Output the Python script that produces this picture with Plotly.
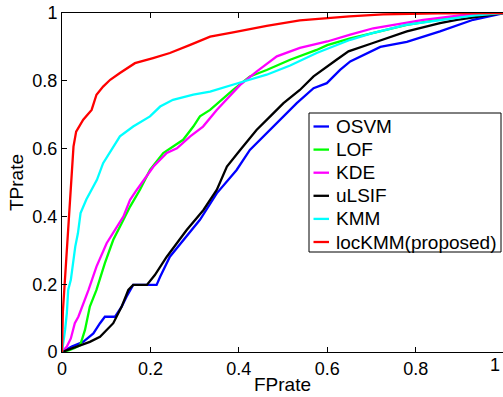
import plotly.graph_objects as go

# ---- data ----
osvm_fp = [0, 0.022, 0.048, 0.071, 0.086, 0.097, 0.12, 0.135, 0.146, 0.161, 0.214, 0.222, 0.244, 0.282, 0.312, 0.35, 0.395, 0.425, 0.463, 0.493, 0.531, 0.569, 0.599, 0.629, 0.652, 0.72, 0.78, 0.855, 0.93, 1]
osvm_tp = [0, 0.016, 0.03, 0.055, 0.085, 0.104, 0.104, 0.134, 0.163, 0.198, 0.198, 0.222, 0.281, 0.34, 0.39, 0.468, 0.537, 0.596, 0.646, 0.685, 0.734, 0.778, 0.793, 0.832, 0.857, 0.90, 0.915, 0.946, 0.98, 1]

lof_fp = [0, 0.015, 0.029, 0.041, 0.046, 0.052, 0.063, 0.078, 0.097, 0.116, 0.135, 0.154, 0.176, 0.199, 0.229, 0.274, 0.297, 0.312, 0.335, 0.387, 0.425, 0.463, 0.516, 0.576, 0.6, 0.652, 0.70, 0.78, 0.9, 1]
lof_tp = [0, 0.005, 0.012, 0.02, 0.04, 0.065, 0.134, 0.183, 0.262, 0.331, 0.38, 0.429, 0.478, 0.537, 0.587, 0.626, 0.665, 0.695, 0.714, 0.773, 0.813, 0.832, 0.862, 0.891, 0.905, 0.925, 0.94, 0.965, 0.99, 1]

kde_fp = [0, 0.011, 0.02, 0.029, 0.037, 0.06, 0.078, 0.101, 0.139, 0.154, 0.169, 0.207, 0.237, 0.26, 0.29, 0.319, 0.35, 0.403, 0.44, 0.486, 0.538, 0.6, 0.652, 0.704, 0.817, 0.9, 1]
kde_tp = [0, 0.016, 0.04, 0.085, 0.104, 0.183, 0.252, 0.321, 0.40, 0.449, 0.478, 0.547, 0.587, 0.601, 0.636, 0.665, 0.714, 0.788, 0.827, 0.872, 0.897, 0.916, 0.936, 0.955, 0.98, 0.993, 1]

ulsif_fp = [0, 0.018, 0.041, 0.063, 0.086, 0.101, 0.116, 0.135, 0.15, 0.161, 0.192, 0.21, 0.237, 0.282, 0.32, 0.35, 0.373, 0.403, 0.44, 0.471, 0.501, 0.538, 0.569, 0.621, 0.648, 0.70, 0.78, 0.855, 0.893, 1]
ulsif_tp = [0, 0.008, 0.02, 0.03, 0.045, 0.065, 0.085, 0.134, 0.183, 0.198, 0.198, 0.227, 0.281, 0.36, 0.419, 0.478, 0.547, 0.596, 0.655, 0.695, 0.734, 0.773, 0.813, 0.862, 0.887, 0.91, 0.946, 0.97, 0.98, 1]

kmm_fp = [0, 0.004, 0.007, 0.011, 0.014, 0.02, 0.03, 0.036, 0.042, 0.055, 0.067, 0.079, 0.093, 0.131, 0.161, 0.199, 0.222, 0.251, 0.297, 0.335, 0.403, 0.463, 0.516, 0.576, 0.652, 0.70, 0.778, 0.93, 1]
kmm_tp = [0, 0.03, 0.065, 0.115, 0.183, 0.213, 0.311, 0.35, 0.41, 0.45, 0.478, 0.508, 0.557, 0.636, 0.665, 0.695, 0.724, 0.744, 0.759, 0.768, 0.795, 0.818, 0.845, 0.882, 0.921, 0.94, 0.965, 0.992, 1]

lockmm_fp = [0, 0.002, 0.006, 0.01, 0.015, 0.02, 0.024, 0.026, 0.032, 0.048, 0.067, 0.078, 0.093, 0.109, 0.131, 0.165, 0.206, 0.244, 0.29, 0.335, 0.387, 0.463, 0.538, 0.6, 0.65, 0.726, 0.85, 1]
lockmm_tp = [0, 0.12, 0.2, 0.28, 0.38, 0.478, 0.55, 0.606, 0.65, 0.685, 0.714, 0.759, 0.783, 0.803, 0.823, 0.852, 0.867, 0.882, 0.906, 0.93, 0.943, 0.962, 0.978, 0.985, 0.99, 0.996, 0.999, 1]

series_names = ["OSVM", "LOF", "KDE", "uLSIF", "KMM", "locKMM(proposed)"]
series_fp = [osvm_fp, lof_fp, kde_fp, ulsif_fp, kmm_fp, lockmm_fp]
series_tp = [osvm_tp, lof_tp, kde_tp, ulsif_tp, kmm_tp, lockmm_tp]
series_colors = ["#0000FF", "#00FF00", "#FF00FF", "#000000", "#00FFFF", "#FF0000"]

tick_vals = [0, 0.2, 0.4, 0.6, 0.8, 1]
tick_text = ["0", "0.2", "0.4", "0.6", "0.8", "1"]

FONT = "Liberation Sans, Arial, Helvetica, sans-serif"
W, H = 503, 397
ML, MR, MT, MB = 62, 0, 13, 45
PW, PH = W - ML - MR, H - MT - MB
X_MAX = 0.9975  # the reference image crops the axes just before x = 1


def px_x(p):
    return (p - ML) / PW


def px_y(p):
    return (H - MB - p) / PH


fig = go.Figure()
for name, fp, tp, col in zip(series_names, series_fp, series_tp, series_colors):
    fig.add_trace(go.Scatter(x=fp, y=tp, mode="lines", name=name,
                             line=dict(color=col, width=2.3), showlegend=False))

fig.update_layout(
    width=W, height=H,
    margin=dict(l=ML, r=MR, t=MT, b=MB),
    paper_bgcolor="white", plot_bgcolor="white",
    font=dict(family=FONT, size=18, color="black"),
    xaxis=dict(range=[0, X_MAX], tickvals=tick_vals, ticktext=tick_text,
               ticks="inside", ticklen=5, tickcolor="black", showline=True,
               linecolor="black", linewidth=1, mirror="ticks", showgrid=False,
               zeroline=False, tickfont=dict(size=18),
               title=dict(text="FPrate", standoff=0, font=dict(size=19))),
    yaxis=dict(range=[0, 1], tickvals=tick_vals, ticktext=tick_text,
               ticks="inside", ticklen=5, tickcolor="black", showline=True,
               linecolor="black", linewidth=1, mirror=False, showgrid=False,
               zeroline=False, tickfont=dict(size=18),
               title=dict(text="TPrate", standoff=3, font=dict(size=19))),
    yaxis2=dict(range=[0, 1], tickvals=tick_vals, overlaying="y", side="right",
                ticks="inside", ticklen=5, tickcolor="black", showline=False,
                showticklabels=False, showgrid=False, zeroline=False),
)

# the "1" x tick label sits at the right edge (kept fully visible)
fig.add_annotation(x=1.0, y=0, xref="paper", yref="paper", text="1",
                   showarrow=False, xanchor="right", yanchor="top", yshift=-1,
                   xshift=-1, font=dict(size=18, family=FONT))

# legend box (MATLAB style: short line samples)
box_l, box_r, box_t, box_b = 309, 501, 113, 252
fig.add_shape(type="rect", xref="paper", yref="paper",
              x0=px_x(box_l), x1=px_x(box_r), y0=px_y(box_b), y1=px_y(box_t),
              line=dict(color="black", width=1), fillcolor="white", layer="above")
row0, row_step = 126.5, 23.1
for i, (name, col) in enumerate(zip(series_names, series_colors)):
    yc = row0 + i * row_step
    fig.add_shape(type="line", xref="paper", yref="paper",
                  x0=px_x(313.5), x1=px_x(329), y0=px_y(yc), y1=px_y(yc),
                  line=dict(color=col, width=2.3), layer="above")
    fig.add_annotation(x=px_x(334), y=px_y(yc), xref="paper", yref="paper",
                       text=name, showarrow=False, xanchor="left", yanchor="middle",
                       font=dict(size=19, family=FONT), xshift=0)

fig.write_html("out.html")
